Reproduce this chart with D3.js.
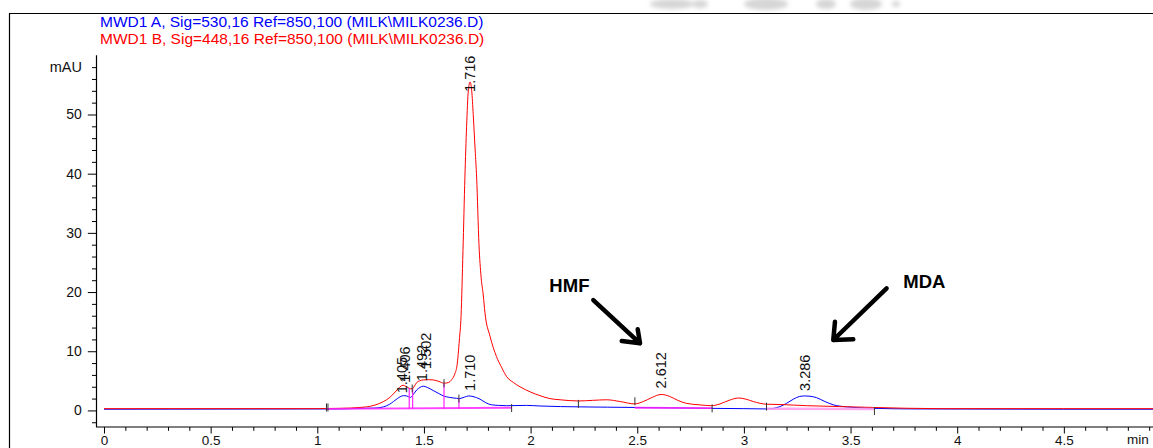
<!DOCTYPE html>
<html>
<head>
<meta charset="utf-8">
<script src="https://cdn.jsdelivr.net/npm/d3@7"></script>
<style>
  html, body { margin: 0; padding: 0; background: #fff; }
  svg { display: block; font-family: "Liberation Sans", Arial, sans-serif; }
</style>
</head>
<body>
<svg id="chart" width="1153" height="448"></svg>
<script>
// Signal A: MWD1 A, 530 nm (retention time in min, response in mAU)
const timeA = [0, 1.10, 1.20, 1.27, 1.31, 1.337, 1.357, 1.375, 1.388, 1.405, 1.419, 1.437, 1.45, 1.466, 1.482,
  1.497, 1.515, 1.544, 1.57, 1.591, 1.62, 1.653, 1.666, 1.69, 1.71, 1.73, 1.763, 1.79, 1.817, 1.85, 1.888,
  1.981, 2.044, 2.14, 2.232, 2.36, 2.489, 2.7, 2.849, 3.0, 3.106, 3.14, 3.169, 3.20, 3.232, 3.26, 3.286,
  3.31, 3.341, 3.38, 3.419, 3.481, 3.55, 3.607, 3.8, 4.5, 5.2];
const signalA = [0.2, 0.25, 0.35, 0.4, 0.6, 1.0, 1.5, 2.0, 2.3, 2.5, 2.45, 2.2, 2.7, 3.45, 3.9,
  4.1, 3.9, 3.35, 2.85, 2.45, 2.2, 2.05, 2.0, 2.25, 2.45, 2.35, 1.9, 1.3, 0.95, 0.85, 0.8,
  0.85, 0.75, 0.65, 0.6, 0.55, 0.5, 0.42, 0.35, 0.3, 0.25, 0.35, 0.65, 1.2, 1.9, 2.35, 2.45,
  2.4, 2.15, 1.5, 0.95, 0.6, 0.45, 0.35, 0.25, 0.2, 0.2];

// Signal B: MWD1 B, 448 nm
const timeB = [0, 1.0, 1.10, 1.153, 1.20, 1.231, 1.27, 1.31, 1.34, 1.357, 1.375, 1.388, 1.403, 1.418, 1.430,
  1.445, 1.455, 1.466, 1.48, 1.497, 1.52, 1.544, 1.57, 1.594, 1.614, 1.630, 1.645, 1.655, 1.666, 1.674,
  1.683, 1.692, 1.700, 1.708, 1.716, 1.724, 1.731, 1.740, 1.747, 1.758, 1.768, 1.778, 1.786, 1.81, 1.84,
  1.865, 1.888, 1.92, 1.95, 2.00, 2.044, 2.09, 2.138, 2.224, 2.29, 2.357, 2.42, 2.489, 2.528, 2.57, 2.612,
  2.65, 2.69, 2.73, 2.79, 2.849, 2.888, 2.93, 2.974, 3.01, 3.044, 3.106, 3.169, 3.294, 3.45, 3.607, 3.92,
  4.5, 5.2];
const signalB = [0.3, 0.3, 0.35, 0.4, 0.5, 0.6, 0.9, 1.5, 2.2, 2.8, 3.5, 4.0, 4.25, 4.0, 3.75,
  3.65, 4.1, 4.7, 5.0, 5.15, 5.2, 5.15, 4.9, 4.6, 4.7, 5.2, 6.2, 7.6, 11.9, 16.0,
  27, 39.4, 48, 54, 55.5, 54, 50, 44, 39.4, 28, 22.5, 19.5, 16.5, 12.5, 9.1,
  7.2, 5.7, 4.7, 4.0, 3.1, 2.5, 2.0, 1.8, 1.6, 1.7, 1.8, 1.5, 1.1, 1.5, 2.2, 2.7,
  2.4, 1.7, 1.2, 0.95, 0.8, 1.1, 1.7, 2.1, 1.9, 1.5, 1.05, 1.0, 0.8, 0.65, 0.5, 0.3,
  0.3, 0.3];

// Peak retention-time labels and the signal each belongs to
const peakLabels = ["1.405", "1.406", "1.492", "1.502", "1.716", "1.710", "2.612", "3.286"];
const peakTimes = [1.405, 1.406, 1.492, 1.502, 1.716, 1.710, 2.612, 3.286];
const peakSignal = ["B", "A", "A", "B", "B", "A", "B", "A"];

// Integration events: peak start/stop marks, drop lines and baselines
const eventTimes = [1.043, 1.050, 1.445, 1.594, 1.664, 1.911, 2.224, 2.489, 2.851, 3.106, 3.612];
const eventLevels = [0.5, 0.5, 3.7, 4.6, 2.0, 0.4, 1.1, 1.55, 0.35, 0.65, -0.1];
const dropTimes = [1.431, 1.447, 1.594, 1.664];
const dropTops = [3.8, 3.7, 4.6, 2.0];
const baseStart = [1.04, 2.489, 3.106];
const baseEnd = [1.911, 2.851, 3.612];
const baseStartLevel = [0.25, 0.45, 0.28];
const baseEndLevel = [0.45, 0.4, 0.25];

// Axis ticks
const xMajorTicks = [0, 0.5, 1, 1.5, 2, 2.5, 3, 3.5, 4, 4.5];
const xTickLabels = ["0", "0.5", "1", "1.5", "2", "2.5", "3", "3.5", "4", "4.5"];
const yMajorTicks = [0, 10, 20, 30, 40, 50];
const yTickLabels = ["0", "10", "20", "30", "40", "50"];

// Legend and annotations
const legendText = ["MWD1 A, Sig=530,16 Ref=850,100 (MILK\\MILK0236.D)",
                    "MWD1 B, Sig=448,16 Ref=850,100 (MILK\\MILK0236.D)"];
const noteLabels = ["HMF", "MDA"];
const noteTextAt = [[2.088, 20.05], [3.747, 20.63]];
const noteFrom = [[2.294, 18.65], [3.669, 20.63]];
const noteTo = [[2.513, 11.34], [3.419, 11.9]];

const svg = d3.select("#chart");
const W = 1153, H = 448;
const COL_A = "#0000ff", COL_B = "#ff0000", COL_BASE = "#ff22ff";

svg.append("rect").attr("width", W).attr("height", H).attr("fill", "#fff");

// faint grey smudges along the top edge
const defs = svg.append("defs");
defs.append("filter").attr("id", "soft").attr("x", "-50%").attr("y", "-50%")
  .attr("width", "200%").attr("height", "200%")
  .append("feGaussianBlur").attr("stdDeviation", 2.2);
const smudges = [[672, 22, 5], [700, 8, 4], [766, 22, 6], [826, 10, 5], [866, 16, 6], [896, 4, 3]];
svg.append("g").attr("filter", "url(#soft)").selectAll("ellipse").data(smudges).join("ellipse")
  .attr("cx", d => d[0]).attr("cy", 4).attr("rx", d => d[1]).attr("ry", d => d[2])
  .attr("fill", "#d6d6d6");

// outer frame (left and top edges)
svg.append("path").attr("d", `M9.5,${H} V13.5 H${W}`).attr("fill", "none")
  .attr("stroke", "#000").attr("stroke-width", 1.2);

// scales
const x = d3.scaleLinear().domain([0, 5]).range([104, 1170.5]);
const y = d3.scaleLinear().domain([-2.8, 60]).range([427, 55.3]);

// legend
svg.append("g").selectAll("text").data(legendText).join("text")
  .attr("x", 100).attr("y", (d, i) => 26.7 + i * 17.3)
  .attr("font-size", 15.5)
  .attr("fill", (d, i) => i === 0 ? COL_A : COL_B)
  .text(d => d);

// y axis
const yAxisG = svg.append("g").attr("transform", "translate(96.5,0)");
yAxisG.append("line").attr("x1", 0).attr("x2", 0).attr("y1", y(60)).attr("y2", y(-2.8))
  .attr("stroke", "#000").attr("stroke-width", 1.2);
const yMinor = d3.range(-2, 60, 2).filter(v => v % 10 !== 0);
yAxisG.append("g").call(d3.axisLeft(y).tickValues(yMinor).tickSize(4.5).tickSizeOuter(0).tickFormat(""))
  .call(g => g.select(".domain").remove());
yAxisG.append("g").call(d3.axisLeft(y).tickValues(yMajorTicks).tickSize(8.7).tickSizeOuter(0)
    .tickFormat((d, i) => yTickLabels[i]).tickPadding(6))
  .call(g => g.select(".domain").remove())
  .call(g => g.selectAll("text").attr("font-size", 14).attr("fill", "#111")
    .attr("font-family", "'Liberation Sans', Arial, sans-serif"));
yAxisG.selectAll(".tick line").attr("stroke", "#000").attr("stroke-width", 1);
svg.append("text").attr("x", 82).attr("y", y(58)).attr("dy", "0.36em")
  .attr("text-anchor", "end").attr("font-size", 14.5).attr("fill", "#111").text("mAU");

// x axis
const xAxisG = svg.append("g").attr("transform", `translate(0,${y(-2.8)})`);
xAxisG.append("line").attr("x1", 96).attr("x2", W).attr("y1", 0).attr("y2", 0)
  .attr("stroke", "#000").attr("stroke-width", 1.2);
const xMinor = d3.range(1, 50).map(k => k / 10).filter(v => Math.abs(v * 2 - Math.round(v * 2)) > 1e-6);
xAxisG.append("g").call(d3.axisBottom(x).tickValues(xMinor).tickSize(3.8).tickSizeOuter(0).tickFormat(""))
  .call(g => g.select(".domain").remove());
xAxisG.append("g").call(d3.axisBottom(x).tickValues(xMajorTicks).tickSize(6.5).tickSizeOuter(0)
    .tickFormat((d, i) => xTickLabels[i]).tickPadding(2))
  .call(g => g.select(".domain").remove())
  .call(g => g.selectAll("text").attr("font-size", 13.5).attr("fill", "#111")
    .attr("font-family", "'Liberation Sans', Arial, sans-serif"));
xAxisG.selectAll(".tick line").attr("stroke", "#000").attr("stroke-width", 1);
svg.append("text").attr("x", 1127).attr("y", 444).attr("font-size", 13.5).attr("fill", "#111").text("min");

// traces
const line = d3.line().x(d => x(d[0])).y(d => y(d[1])).curve(d3.curveMonotoneX);
const seriesA = timeA.map((t, i) => [t, signalA[i]]);
const seriesB = timeB.map((t, i) => [t, signalB[i]]);
const plot = svg.append("g");
plot.append("path").datum(seriesA).attr("d", line).attr("fill", "none")
  .attr("stroke", COL_A).attr("stroke-width", 1);
plot.append("path").datum(seriesB).attr("d", line).attr("fill", "none")
  .attr("stroke", COL_B).attr("stroke-width", 1);

// integration baselines and drop lines
plot.append("g").selectAll("line").data(baseStart).join("line")
  .attr("x1", d => x(d)).attr("x2", (d, i) => x(baseEnd[i]))
  .attr("y1", (d, i) => y(baseStartLevel[i])).attr("y2", (d, i) => y(baseEndLevel[i]))
  .attr("stroke", (d, i) => i === 2 ? "#ff99ee" : COL_BASE)
  .attr("stroke-width", (d, i) => i === 2 ? 2.5 : 1.8).attr("opacity", 0.85);
plot.append("g").selectAll("line").data(dropTimes).join("line")
  .attr("x1", d => x(d)).attr("x2", d => x(d))
  .attr("y1", y(0.25)).attr("y2", (d, i) => y(dropTops[i]))
  .attr("stroke", COL_BASE).attr("stroke-width", 1.2);

// peak start / stop marks
plot.append("g").selectAll("line").data(eventTimes).join("line")
  .attr("x1", d => x(d)).attr("x2", d => x(d))
  .attr("y1", (d, i) => y(eventLevels[i]) - 4).attr("y2", (d, i) => y(eventLevels[i]) + 4)
  .attr("stroke", "#333").attr("stroke-width", 1);

// peak labels, placed relative to the apex of their own trace
const labelGap = [-8, 13, 5, 11, -10, 5, 6, 5];
const labelShift = [-2, 0.5, -0.5, 1.5, 0, 1, 0, 0];
function apexAt(t, sig) {
  const times = sig === "A" ? timeA : timeB;
  const vals = sig === "A" ? signalA : signalB;
  let best = 0;
  times.forEach((tt, i) => { if (Math.abs(tt - t) < Math.abs(times[best] - t)) best = i; });
  return vals[best];
}
plot.append("g").selectAll("text").data(peakLabels).join("text")
  .attr("transform", (d, i) => {
    const px = x(peakTimes[i]) + labelShift[i];
    const py = y(apexAt(peakTimes[i], peakSignal[i])) - labelGap[i];
    return `translate(${px},${py}) rotate(-90)`;
  })
  .attr("dy", "0.36em").attr("font-size", 14.5).attr("fill", "#111")
  .text(d => d);

// HMF / MDA call-outs
const notes = svg.append("g");
notes.selectAll("text").data(noteLabels).join("text")
  .attr("x", (d, i) => x(noteTextAt[i][0])).attr("y", (d, i) => y(noteTextAt[i][1]))
  .attr("font-size", 18.5).attr("font-weight", "bold").attr("fill", "#000").text(d => d);
const heads = [[[-18.3, -2.3], [-2.3, -14]], [[20, -0.7], [1.7, -18.3]]];
notes.selectAll("path").data(noteLabels).join("path")
  .attr("d", (d, i) => {
    const fx = x(noteFrom[i][0]), fy = y(noteFrom[i][1]);
    const tx = x(noteTo[i][0]), ty = y(noteTo[i][1]);
    const h = heads[i];
    return `M${fx},${fy} L${tx},${ty} M${tx + h[0][0]},${ty + h[0][1]} L${tx},${ty} L${tx + h[1][0]},${ty + h[1][1]}`;
  })
  .attr("fill", "none").attr("stroke", "#000").attr("stroke-width", 4.5)
  .attr("stroke-linecap", "round").attr("stroke-linejoin", "round");
</script>
</body>
</html>
